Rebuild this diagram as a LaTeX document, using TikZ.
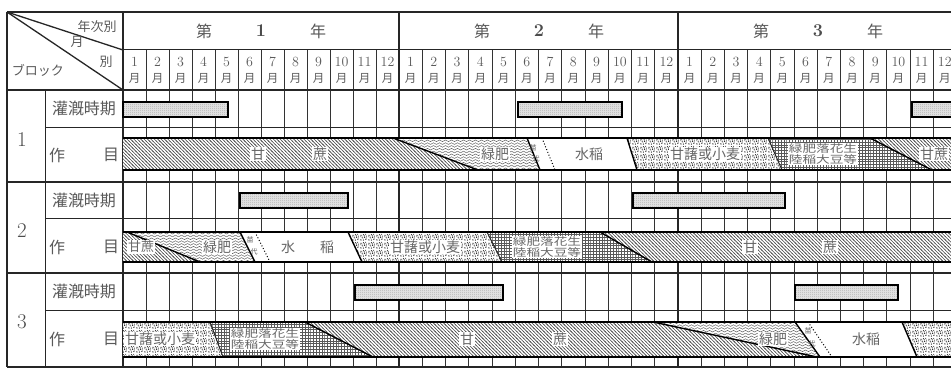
\documentclass[tikz,border=0pt]{standalone}
\usepackage{fontspec}
\newfontfamily\jp{Noto Sans CJK JP}
\newfontfamily\jpwide{Noto Sans CJK JP}[FakeStretch=1.3]
\usetikzlibrary{patterns}
\pgfdeclarepatternformonly{hatchnw}{\pgfpoint{-1pt}{-1pt}}{\pgfpoint{4.5pt}{4.5pt}}{\pgfpoint{3.4pt}{3.4pt}}{%
  \pgfsetlinewidth{0.6pt}%
  \pgfpathmoveto{\pgfpoint{-0.5pt}{3.9pt}}\pgfpathlineto{\pgfpoint{3.9pt}{-0.5pt}}\pgfusepath{stroke}}
\pgfdeclarepatternformonly{wave}{\pgfpoint{-0.5pt}{-0.5pt}}{\pgfpoint{6.5pt}{3.5pt}}{\pgfpoint{6pt}{2.8pt}}{%
  \pgfsetlinewidth{0.5pt}%
  \pgfpathmoveto{\pgfpoint{0pt}{1.4pt}}%
  \pgfpathcurveto{\pgfpoint{1pt}{2.5pt}}{\pgfpoint{2pt}{2.5pt}}{\pgfpoint{3pt}{1.4pt}}%
  \pgfpathcurveto{\pgfpoint{4pt}{0.3pt}}{\pgfpoint{5pt}{0.3pt}}{\pgfpoint{6pt}{1.4pt}}%
  \pgfusepath{stroke}}
\pgfdeclarepatternformonly{stip}{\pgfpoint{0pt}{0pt}}{\pgfpoint{8pt}{8pt}}{\pgfpoint{8pt}{8pt}}{%
  \pgfpathcircle{\pgfpoint{1pt}{1.2pt}}{0.8pt}%
  \pgfpathcircle{\pgfpoint{3.8pt}{0.9pt}}{0.6pt}%
  \pgfpathcircle{\pgfpoint{6.5pt}{1.8pt}}{0.75pt}%
  \pgfpathcircle{\pgfpoint{2.4pt}{3.6pt}}{0.65pt}%
  \pgfpathcircle{\pgfpoint{5.1pt}{4.2pt}}{0.85pt}%
  \pgfpathcircle{\pgfpoint{7.2pt}{5.3pt}}{0.55pt}%
  \pgfpathcircle{\pgfpoint{1.1pt}{6.3pt}}{0.7pt}%
  \pgfpathcircle{\pgfpoint{3.9pt}{6.9pt}}{0.75pt}%
  \pgfpathcircle{\pgfpoint{6.3pt}{7.3pt}}{0.55pt}%
  \pgfpathcircle{\pgfpoint{3.4pt}{2.3pt}}{0.4pt}%
  \pgfpathcircle{\pgfpoint{7.3pt}{3.4pt}}{0.45pt}%
  \pgfpathcircle{\pgfpoint{0.8pt}{4.6pt}}{0.45pt}%
  \pgfpathcircle{\pgfpoint{5.3pt}{6.0pt}}{0.4pt}%
  \pgfpathcircle{\pgfpoint{2.4pt}{5.4pt}}{0.4pt}%
  \pgfusepath{fill}}
\pgfdeclarepatternformonly{mesh}{\pgfpoint{-0.5pt}{-0.5pt}}{\pgfpoint{3.2pt}{3.2pt}}{\pgfpoint{2.8pt}{2.8pt}}{%
  \pgfsetlinewidth{0.65pt}%
  \pgfpathmoveto{\pgfpoint{0pt}{0pt}}\pgfpathlineto{\pgfpoint{2.8pt}{0pt}}%
  \pgfpathmoveto{\pgfpoint{0pt}{0pt}}\pgfpathlineto{\pgfpoint{0pt}{2.8pt}}%
  \pgfusepath{stroke}}
\pgfdeclarepatternformonly{fdots}{\pgfpoint{0pt}{0pt}}{\pgfpoint{2pt}{2pt}}{\pgfpoint{2pt}{2pt}}{%
  \pgfpathcircle{\pgfpoint{1pt}{1pt}}{0.45pt}\pgfusepath{fill}}
\tikzset{
  thk/.style={line width=1.3pt, black!85},
  mid/.style={line width=1pt, black!85},
  thn/.style={line width=0.75pt, black!80},
  bedge/.style={line width=1.7pt, black},
  bnd/.style={line width=1.4pt, black},
  dotb/.style={line width=1pt, black, dotted},
  sug/.style={preaction={fill=white}, pattern=hatchnw, pattern color=black!70},
  gre/.style={preaction={fill=white}, pattern=wave, pattern color=black!60},
  pot/.style={preaction={fill=white}, pattern=stip, pattern color=black!90},
  leg/.style={preaction={fill=white}, pattern=mesh, pattern color=black!65},
  wht/.style={fill=white},
  irr/.style={draw=black, line width=1.8pt, preaction={fill=black!12}, pattern=fdots, pattern color=black!45},
  lab/.style={font=\jp\fontsize{16}{18}\selectfont, text=black!65, inner sep=0.5pt},
  clab/.style={font=\jp\fontsize{13}{15}\selectfont, text=black!65, inner sep=0.5pt},
  blab/.style={font=\jp\fontsize{14}{16}\selectfont, text=black!60, inner sep=0.8pt, fill=white},
  slab/.style={font=\jpwide\fontsize{10.5}{11.2}\selectfont, text=black!60, inner sep=0.6pt, fill=white, align=center},
  tlab/.style={font=\jp\fontsize{7}{7}\selectfont, text=black!65, inner sep=0pt},
  mnum/.style={font=\fontsize{14}{15}\selectfont, text=black!65, inner sep=0pt},
  mmon/.style={font=\jp\fontsize{11.5}{13}\selectfont, text=black!65, inner sep=0pt},
  ylab/.style={font=\jp\fontsize{16}{18}\selectfont, text=black!65, inner sep=0pt},
  ynum/.style={font=\bfseries\fontsize{18}{20}\selectfont, text=black!70, inner sep=0pt},
  bnum/.style={font=\fontsize{21}{23}\selectfont, text=black!70, inner sep=0pt},
}
\begin{document}
\begin{tikzpicture}[x=1pt,y=-1pt]
\useasboundingbox (0,0) rectangle (951,369);
\fill[white] (0,0) rectangle (951,369);
\clip (0,0) rectangle (951,369);

% month grid lines
\foreach \xo/\w in {123/23, 399/23.25, 678/23.2}{
  \foreach \m in {1,...,11}{
    \pgfmathsetmacro\xl{\xo+\m*\w}
    \draw[thn] (\xl,50) -- (\xl,367);
  }
}
% horizontal lines
\draw[thk] (7,12) -- (960,12);
\draw[mid] (123,50) -- (960,50);
\draw[thk] (7,90) -- (960,90);
\foreach \yy in {182,273,367} \draw[thk] (7,\yy) -- (960,\yy);
\foreach \yy in {127,218,310} \draw[mid] (45,\yy) -- (960,\yy);
% vertical main lines
\draw[thk] (7,12) -- (7,367);
\draw[mid] (45,90) -- (45,367);
\foreach \xx in {123,399,678} \draw[thk] (\xx,12) -- (\xx,367);
% corner diagonals
\draw[thk] (7,12) -- (123,50);
\draw[thk] (7,12) -- (123,90);

% header texts
\node[clab] (cy) at (97,27) {年次別};
\node[clab] (cm) at (77,42) {月};
\node[clab] (cb) at (106,62) {別};
\node[clab] (cblk) at (38,70) {ブロック};
\foreach \c/\n in {1/1, 2/2, 3/3}{
  \pgfmathsetmacro\xc{\c==1 ? 261 : (\c==2 ? 539 : 818)}
  \node[ylab] (yd\c) at (\xc-57,31) {第};
  \node[ynum] (yn\c) at (\xc,31) {\n};
  \node[ylab] (yy\c) at (\xc+57,31) {年};
}
\foreach \xo/\w/\yr in {123/23/1, 399/23.25/2, 678/23.2/3}{
  \foreach \m in {1,...,12}{
    \pgfmathsetmacro\xc{\xo+(\m-0.5)*\w}
    \node[mnum] (mn\yr-\m) at (\xc,62) {\m};
    \node[mmon] (mm\yr-\m) at (\xc,78) {月};
  }
}
% left labels
\node[bnum] (b1) at (22,140) {1};
\node[bnum] (b2) at (22,231) {2};
\node[bnum] (b3) at (22,322) {3};
\foreach \i/\yi/\yc in {1/108/155, 2/200/247, 3/291/339}{
  \node[lab] (ir\i) at (84,\yi) {灌漑時期};
  \node[lab] (sa\i) at (57,\yc) {作};
  \node[lab] (sb\i) at (111,\yc) {目};
}

% irrigation bars
\draw[irr] (123,102) rectangle (228,117);
\draw[irr] (518,102) rectangle (622,117);
\draw[irr] (912,102) rectangle (970,117);
\draw[irr] (240,193) rectangle (348,208);
\draw[irr] (633,193) rectangle (785,208);
\draw[irr] (355,285) rectangle (503,300);
\draw[irr] (795,285) rectangle (898,300);

% ---- block 1 band
\path[sug] (123,138) -- (393,138) -- (478,170) -- (123,170) -- cycle;
\path[gre] (393,138) -- (527,138) -- (540,170) -- (478,170) -- cycle;
\path[wht] (527,138) -- (627,138) -- (637,170) -- (540,170) -- cycle;
\path[pot] (627,138) -- (768,138) -- (782,170) -- (637,170) -- cycle;
\path[leg] (768,138) -- (870,138) -- (932,170) -- (782,170) -- cycle;
\path[sug] (870,138) -- (970,138) -- (970,170) -- (932,170) -- cycle;
\draw[bnd] (393,138) -- (478,170);
\draw[bnd] (527,138) -- (540,170);
\draw[dotb] (542,138) -- (555,170);
\draw[bnd] (627,138) -- (637,170);
\draw[mid] (768,138) -- (782,170);
\draw[bnd] (870,138) -- (932,170);
\draw[bedge] (123,138) -- (970,138);
\draw[bedge] (123,170) -- (970,170);
\node[blab] (s1a) at (258,154) {甘};
\node[blab] (s1b) at (320,154) {蔗};
\node[blab] (g1) at (495,154) {緑肥};
\node[tlab] (n1a) at (533,148) {苗};
\node[tlab] (n1b) at (536,159) {代};
\node[blab] (w1) at (589,154) {水稲};
\node[blab] (p1) at (705,154) {甘藷或小麦};
\node[slab] (l1) at (823,154) {緑肥落花生\\陸稲大豆等};
\node[blab] (s1c) at (934,154) {甘蔗};

% ---- block 2 band
\path[sug] (123,232) -- (127,232) -- (200,262) -- (123,262) -- cycle;
\path[gre] (127,232) -- (240,232) -- (255,262) -- (200,262) -- cycle;
\path[wht] (240,232) -- (348,232) -- (362,262) -- (255,262) -- cycle;
\path[pot] (348,232) -- (487,232) -- (502,262) -- (362,262) -- cycle;
\path[leg] (487,232) -- (600,232) -- (652,262) -- (502,262) -- cycle;
\path[sug] (600,232) -- (970,232) -- (970,262) -- (652,262) -- cycle;
\draw[bnd] (127,232) -- (200,262);
\draw[bnd] (240,232) -- (255,262);
\draw[dotb] (255,232) -- (270,262);
\draw[bnd] (348,232) -- (362,262);
\draw[mid] (487,232) -- (502,262);
\draw[bnd] (600,232) -- (652,262);
\draw[bedge] (123,232) -- (970,232);
\draw[bedge] (123,262) -- (970,262);
\node[blab, font=\jp\fontsize{13}{15}\selectfont] (s2a) at (141,247) {甘蔗};
\node[blab] (g2) at (217,247) {緑肥};
\node[tlab] (n2a) at (250,240) {苗};
\node[tlab] (n2b) at (254,252) {代};
\node[blab] (w2a) at (288,247) {水};
\node[blab] (w2b) at (327,247) {稲};
\node[blab] (p2) at (425,247) {甘藷或小麦};
\node[slab] (l2) at (547,247) {緑肥落花生\\陸稲大豆等};
\node[blab] (s2b) at (750,247) {甘};
\node[blab] (s2c) at (830,247) {蔗};

% ---- block 3 band
\path[pot] (123,322) -- (210,322) -- (223,357) -- (123,357) -- cycle;
\path[leg] (210,322) -- (305,322) -- (373,357) -- (223,357) -- cycle;
\path[sug] (305,322) -- (653,322) -- (817,357) -- (373,357) -- cycle;
\path[gre] (653,322) -- (795,322) -- (820,357) -- (817,357) -- cycle;
\path[wht] (795,322) -- (902,322) -- (917,357) -- (820,357) -- cycle;
\path[pot] (902,322) -- (970,322) -- (970,357) -- (917,357) -- cycle;
\draw[mid] (210,322) -- (223,357);
\draw[bnd] (305,322) -- (373,357);
\draw[bnd] (653,322) -- (817,357);
\draw[bnd] (795,322) -- (820,357);
\draw[dotb] (808,322) -- (832,357);
\draw[bnd] (902,322) -- (917,357);
\draw[bedge] (123,322) -- (970,322);
\draw[bedge] (123,357) -- (970,357);
\node[blab] (p3) at (160,339) {甘藷或小麦};
\node[slab] (l3) at (265,339) {緑肥落花生\\陸稲大豆等};
\node[blab] (s3a) at (467,339) {甘};
\node[blab] (s3b) at (560,339) {蔗};
\node[blab] (g3) at (773,339) {緑肥};
\node[tlab] (n3a) at (808,331) {苗};
\node[tlab] (n3b) at (812,344) {代};
\node[blab] (w3) at (866,339) {水稲};
\end{tikzpicture}
\end{document}
